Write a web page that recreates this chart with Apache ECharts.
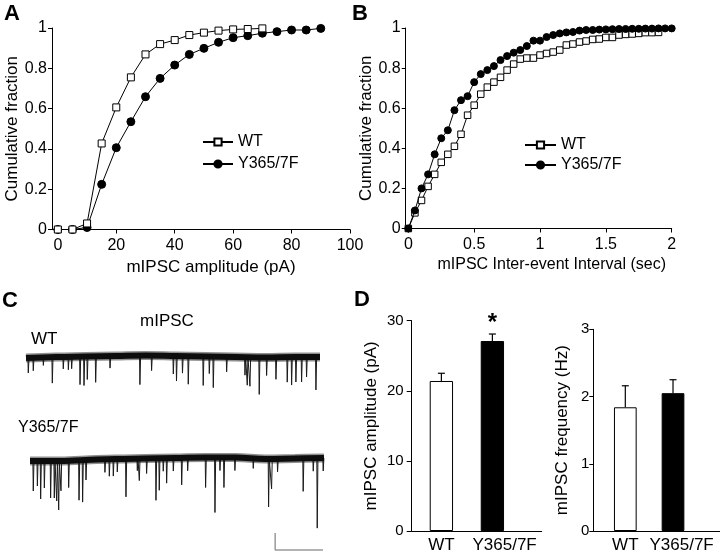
<!DOCTYPE html>
<html><head><meta charset="utf-8">
<script src="https://cdn.jsdelivr.net/npm/echarts@6/dist/echarts.min.js"></script>
<style>html,body{margin:0;padding:0;background:#fff}#c{width:720px;height:557px}</style>
</head><body><div id="c"></div>
<script>
// ---------- Panel A: cumulative amplitude ----------
const ampX   = [0,5,10,15,20,25,30,35,40,45,50,55,60,65,70,75,80,85,90];
const ampWT  = [0,0,0.03,0.427,0.606,0.755,0.869,0.92,0.94,0.965,0.977,0.987,0.993,0.995,0.998];
const ampMut = [0,0,0.01,0.224,0.406,0.535,0.659,0.75,0.816,0.869,0.899,0.929,0.952,0.962,0.974,0.982,0.99,0.99,0.998];
const ampTicks = [0,20,40,60,80,100];
// ---------- Panel B: cumulative inter-event interval ----------
const ieiX = [0,0.05,0.1,0.15,0.2,0.25,0.3,0.35,0.4,0.45,0.5,0.55,0.6,0.65,0.7,0.75,0.8,0.85,0.9,0.95,1,
              1.05,1.1,1.15,1.2,1.25,1.3,1.35,1.4,1.45,1.5,1.55,1.6,1.65,1.7,1.75,1.8,1.85,1.9,1.95,2];
const ieiWT  = [0,0.078,0.14,0.21,0.27,0.33,0.37,0.41,0.47,0.565,0.615,0.67,0.705,0.73,0.754,0.79,0.82,0.845,0.85,0.85,0.865,
                0.873,0.88,0.89,0.915,0.92,0.93,0.935,0.943,0.945,0.953,0.953,0.965,0.968,0.97,0.973,0.977,0.977,0.978];
const ieiMut = [0,0.09,0.2,0.27,0.37,0.45,0.49,0.59,0.64,0.66,0.73,0.77,0.79,0.81,0.84,0.86,0.877,0.89,0.91,0.937,0.937,
                0.955,0.965,0.973,0.978,0.98,0.987,0.99,0.99,0.992,0.993,0.994,0.995,0.995,0.996,0.996,0.997,0.997,0.998,0.998,0.998];
const ieiTicks = [0,0.5,1,1.5,2];
const fracTicks = [0,0.2,0.4,0.6,0.8,1];
// ---------- Panel C: example traces (event times in s, amplitudes in pA) ----------
const wtBaseT = [0,3,6,9,12,15,18,21,24,27,29.5];
const wtBaseV = [-1,0,0.5,1,1.5,1,0.5,0,-0.5,0,0];
const wtEvT = [0.23,0.73,1.74,2.64,3.74,4.25,4.58,5.42,5.82,6.15,6.99,8.43,11.43,12.6,14.78,15.1,15.7,16.28,17.78,18.39,18.79,20.13,21.97,22.2,22.47,23.4,24.14,25.08,26.21,26.65,27.08,27.65,28.15,29.09];
const wtEvA = [15,13,8,26,12,13,12,28,29,23,26,12,29,15,18,25,17,28,29,17,31,15,18,28,29,37,18,22,25,28,25,25,20,33];
const mutBaseT = [0.4,3,6,9,12,15,18,21,24,27,29.9];
const mutBaseV = [-1,-1,0,1,1.5,2,2.5,2.5,1,1.5,2];
const mutEvT = [0.73,1.14,1.47,1.84,2.47,2.84,3.08,3.28,3.51,4.28,5.32,5.68,6.02,7.92,8.36,8.76,9.16,10.03,11.17,11.37,12.1,13.04,13.37,13.77,14.11,14.78,15.62,16.22,18.02,18.96,19.46,19.86,20.96,22.8,24.34,24.64,25.24,27.81,28.82,29.22,29.82];
const mutEvA = [30,25,38,27,37,37,40,49,30,27,40,42,20,13,17,17,13,38,12,22,15,42,32,13,25,13,27,13,30,55,13,30,13,10,48,30,13,33,13,70,13];
const scaleBarX = [25,25,29.8];
const scaleBarY = [-73,-90,-90];
// ---------- Panel D: bar graphs ----------
const groups   = ['WT','Y365/7F'];
const ampMean  = [21.4,27.1];
const ampSEM   = [1.1,1.0];
const freqMean = [1.84,2.05];
const freqSEM  = [0.32,0.2];
const sig      = ['','*'];

const FONT = "'Liberation Sans', Arial, sans-serif";
const chart = echarts.init(document.getElementById('c'), null, {renderer:'canvas'});

function interp(ts, vs, t){
  if (t <= ts[0]) return vs[0];
  for (let i=1;i<ts.length;i++){ if (t<=ts[i]){ const f=(t-ts[i-1])/(ts[i]-ts[i-1]); return vs[i-1]+f*(vs[i]-vs[i-1]); } }
  return vs[vs.length-1];
}
function spikes(ts, as, bt, bv){
  const d=[];
  for (let i=0;i<ts.length;i++){ const b=interp(bt,bv,ts[i]); d.push([ts[i]-0.04,b],[ts[i],b-as[i]],[ts[i]+0.07,b]); }
  return d;
}
const zip = (xs, ys) => ys.map((v,i)=>[xs[i], v]);

const axLine = {show:true, onZero:false, lineStyle:{color:'#000', width:1}};
function valAxis(extra){
  return Object.assign({type:'value', splitLine:{show:false}, axisLine:axLine,
    axisTick:{show:true, length:4, lineStyle:{color:'#000'}},
    axisLabel:{color:'#000', fontFamily:FONT, fontSize:16}}, extra);
}
const hidden = (gi, min, max) => ({type:'value', gridIndex:gi, min, max, show:false});

const lineStyleBase = {color:'#000', width:1};
const sq = (name, data, xi, size, z) => ({type:'line', name, data, xAxisIndex:xi, yAxisIndex:xi, symbol:'rect', symbolSize:size,
  showAllSymbol:true, itemStyle:{color:'#fff', borderColor:'#000', borderWidth:1}, lineStyle:lineStyleBase, z});
const dot = (name, data, xi, size, z) => ({type:'line', name, data, xAxisIndex:xi, yAxisIndex:xi, symbol:'circle', symbolSize:size,
  showAllSymbol:true, itemStyle:{color:'#000', borderColor:'#000', borderWidth:1}, lineStyle:lineStyleBase, z});

function errRender(params, api){
  const x=api.value(0), lo=api.value(1), hi=api.value(2);
  const p1=api.coord([x,lo]), p2=api.coord([x,hi]);
  const cap=7;
  return {type:'group', children:[
    {type:'line', shape:{x1:p1[0],y1:p1[1],x2:p2[0],y2:p2[1]}, style:{stroke:'#000', lineWidth:1.2}},
    {type:'line', shape:{x1:p2[0]-cap/2,y1:p2[1],x2:p2[0]+cap/2,y2:p2[1]}, style:{stroke:'#000', lineWidth:1.2}}
  ]};
}
const barData = (means) => means.map((v,i)=>({value:[i+1, v], itemStyle:{color: i===0?'#fff':'#000', borderColor:'#000', borderWidth:1}}));
const errData = (means, sems) => means.map((v,i)=>[i+1, v, v+sems[i]]);

const band = (gi, data, color, width, opacity) => ({type:'line', xAxisIndex:gi, yAxisIndex:gi, data, symbol:'none', smooth:0.4,
  lineStyle:{color, width, opacity}, silent:true});

const option = {
  backgroundColor:'#fff',
  animation:false,
  textStyle:{fontFamily:FONT},
  grid:[
    {left:52, top:28, width:298, height:201.5},
    {left:405.7, top:28, width:266, height:200.5},
    {left:26, top:347, width:299, height:70},
    {left:26, top:450, width:299, height:105},
    {left:411.7, top:320.7, width:130, height:210.3},
    {left:593.3, top:329.3, width:126.7, height:201.7}
  ],
  xAxis:[
    valAxis({gridIndex:0, min:-2, max:100, axisLabel:{color:'#000', fontFamily:FONT, fontSize:16, margin:8, customValues:ampTicks},
      axisTick:{show:true, length:4, customValues:ampTicks, lineStyle:{color:'#000'}},
      name:'mIPSC amplitude (pA)', nameLocation:'middle', nameGap:29,
      nameTextStyle:{color:'#000', fontFamily:FONT, fontSize:17, padding:[0,0,0,20]}}),
    valAxis({gridIndex:1, min:-0.02, max:2, axisLabel:{color:'#000', fontFamily:FONT, fontSize:16, margin:8, customValues:ieiTicks},
      axisTick:{show:true, length:4, customValues:ieiTicks, lineStyle:{color:'#000'}},
      name:'mIPSC Inter-event Interval (sec)', nameLocation:'middle', nameGap:28,
      nameTextStyle:{color:'#000', fontFamily:FONT, fontSize:16, padding:[0,0,0,26]}}),
    hidden(2, 0, 30),
    hidden(3, 0, 30),
    valAxis({gridIndex:4, min:0.418, max:2.967, axisTick:{show:false},
      axisLabel:{color:'#000', fontFamily:FONT, fontSize:17, margin:6, customValues:[1,2.24], formatter:v=> v<1.5?groups[0]:groups[1]}}),
    valAxis({gridIndex:5, min:0.329, max:2.985, axisTick:{show:false},
      axisLabel:{color:'#000', fontFamily:FONT, fontSize:17, margin:6, customValues:[1,2.18], formatter:v=> v<1.5?groups[0]:groups[1]}})
  ],
  yAxis:[
    valAxis({gridIndex:0, min:0, max:1, axisLabel:{color:'#000', fontFamily:FONT, fontSize:16, margin:5, customValues:fracTicks, formatter:v=>String(+v.toFixed(1))},
      axisTick:{show:true, length:4, customValues:fracTicks, lineStyle:{color:'#000'}},
      name:'Cumulative fraction', nameLocation:'middle', nameGap:30, nameTextStyle:{color:'#000', fontFamily:FONT, fontSize:17}}),
    valAxis({gridIndex:1, min:0, max:1, axisLabel:{color:'#000', fontFamily:FONT, fontSize:16, margin:5, customValues:fracTicks, formatter:v=>String(+v.toFixed(1))},
      axisTick:{show:true, length:4, customValues:fracTicks, lineStyle:{color:'#000'}},
      name:'Cumulative fraction', nameLocation:'middle', nameGap:31, nameTextStyle:{color:'#000', fontFamily:FONT, fontSize:17}}),
    hidden(2, -60, 10),
    hidden(3, -95, 10),
    valAxis({gridIndex:4, min:0, max:30, interval:10, axisTick:{show:true, length:5, lineStyle:{color:'#000'}},
      axisLabel:{color:'#000', fontFamily:FONT, fontSize:15, margin:8},
      name:'mIPSC amplitude (pA)', nameLocation:'middle', nameGap:32, nameTextStyle:{color:'#000', fontFamily:FONT, fontSize:17}}),
    valAxis({gridIndex:5, min:0, max:3, interval:1, axisTick:{show:true, length:4, lineStyle:{color:'#000'}},
      axisLabel:{color:'#000', fontFamily:FONT, fontSize:15, margin:4},
      name:'mIPSC frequency (Hz)', nameLocation:'middle', nameGap:22, nameTextStyle:{color:'#000', fontFamily:FONT, fontSize:17}})
  ],
  legend:[
    {data:['WT','Y365/7F'], orient:'vertical', left:197, top:129, itemWidth:30, itemHeight:9, itemGap:6,
     textStyle:{color:'#000', fontFamily:FONT, fontSize:16}, selectedMode:false},
    {data:['WT','Y365/7F'], orient:'vertical', left:519, top:132, itemWidth:31, itemHeight:9, itemGap:4,
     textStyle:{color:'#000', fontFamily:FONT, fontSize:16}, selectedMode:false}
  ],
  series:[
    dot('Y365/7F', zip(ampX, ampMut), 0, 8, 2),
    sq('WT', zip(ampX, ampWT), 0, 7, 3),
    sq('WT', zip(ieiX, ieiWT), 1, 6.5, 2),
    dot('Y365/7F', zip(ieiX, ieiMut), 1, 7, 3),
    // traces
    band(2, zip(wtBaseT, wtBaseV), '#222', 9, 0.5),
    {type:'line', xAxisIndex:2, yAxisIndex:2, data:spikes(wtEvT, wtEvA, wtBaseT, wtBaseV), symbol:'none', lineStyle:{color:'#1a1a1a', width:1}, silent:true},
    band(2, zip(wtBaseT, wtBaseV), '#0d0d0d', 6, 1),
    band(3, zip(mutBaseT, mutBaseV), '#222', 9, 0.5),
    {type:'line', xAxisIndex:3, yAxisIndex:3, data:spikes(mutEvT, mutEvA, mutBaseT, mutBaseV), symbol:'none', lineStyle:{color:'#1a1a1a', width:1}, silent:true},
    band(3, zip(mutBaseT, mutBaseV), '#0d0d0d', 6, 1),
    {type:'line', xAxisIndex:3, yAxisIndex:3, data:zip(scaleBarX, scaleBarY), symbol:'none', lineStyle:{color:'#9a9a9a', width:1.5}, silent:true},
    // bars
    {type:'bar', xAxisIndex:4, yAxisIndex:4, barWidth:23.3, data:barData(ampMean),
     label:{show:true, position:'top', distance:6, formatter:p=>sig[p.dataIndex], color:'#000', fontFamily:FONT, fontSize:24, fontWeight:'bold'}},
    {type:'custom', xAxisIndex:4, yAxisIndex:4, data:errData(ampMean, ampSEM), renderItem:errRender, z:3},
    {type:'bar', xAxisIndex:5, yAxisIndex:5, barWidth:22.7, data:barData(freqMean)},
    {type:'custom', xAxisIndex:5, yAxisIndex:5, data:errData(freqMean, freqSEM), renderItem:errRender, z:3}
  ],
  graphic:[
    {type:'text', left:4, top:3, style:{text:'A', font:'bold 22px '+FONT, fill:'#000'}},
    {type:'text', left:352, top:3, style:{text:'B', font:'bold 22px '+FONT, fill:'#000'}},
    {type:'text', left:2, top:290, style:{text:'C', font:'bold 22px '+FONT, fill:'#000'}},
    {type:'text', left:354, top:289, style:{text:'D', font:'bold 22px '+FONT, fill:'#000'}},
    {type:'text', left:140, top:313, style:{text:'mIPSC', font:'17px '+FONT, fill:'#000'}},
    {type:'text', left:31, top:331, style:{text:'WT', font:'17px '+FONT, fill:'#000'}},
    {type:'text', left:18, top:420, style:{text:'Y365/7F', font:'16px '+FONT, fill:'#000'}}
  ]
};
chart.setOption(option);
</script></body></html>
